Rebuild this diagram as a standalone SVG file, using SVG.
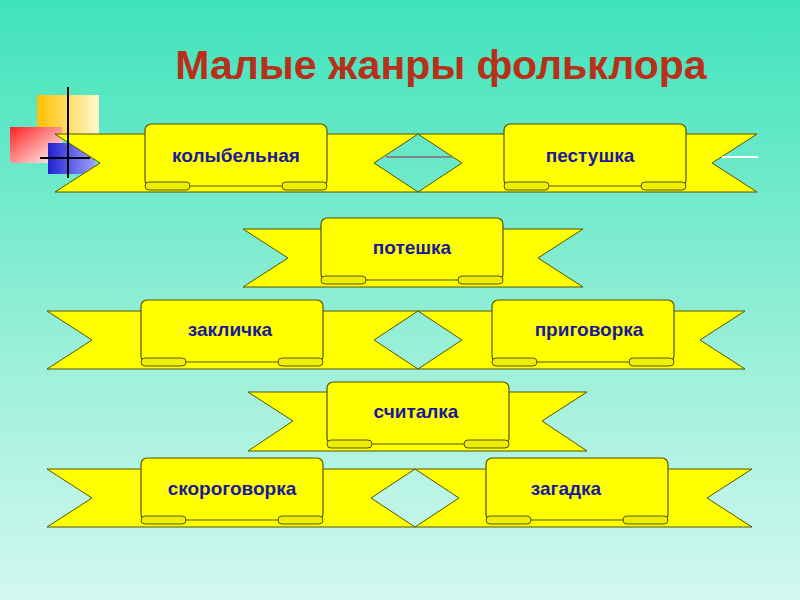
<svg xmlns="http://www.w3.org/2000/svg" width="800" height="600" viewBox="0 0 800 600">
<defs>
<linearGradient id="bg" x1="0" y1="0" x2="0" y2="1"><stop offset="0" stop-color="#3fe3bb"/><stop offset="0.6" stop-color="#9cf0d9"/><stop offset="1" stop-color="#d2f8ee"/></linearGradient>
<linearGradient id="gy" x1="0" y1="0" x2="1" y2="0"><stop offset="0" stop-color="#ffc000"/><stop offset="1" stop-color="#fff8d0"/></linearGradient>
<linearGradient id="gr" x1="0" y1="0" x2="1" y2="1"><stop offset="0" stop-color="#ff2020"/><stop offset="1" stop-color="#ffffff"/></linearGradient>
<linearGradient id="gb" x1="0" y1="0" x2="1" y2="0"><stop offset="0" stop-color="#2020d0"/><stop offset="1" stop-color="#a0a0ff"/></linearGradient>
<style>
.rb{fill:#ffff00;stroke:#555500;stroke-width:1}
.pn{fill:#ffff00;stroke:#555500;stroke-width:1.2}
.lip{fill:#eeee00;stroke:#555500;stroke-width:1}
.t{font-family:"Liberation Sans",Arial,sans-serif;font-weight:bold;font-size:19px;fill:#1a1a99;text-anchor:middle}
</style>
<g id="panel">
<rect x="0" y="0" width="182" height="62" rx="6" class="pn"/>
<rect x="0" y="58" width="45" height="8" rx="4" class="lip"/>
<rect x="137" y="58" width="45" height="8" rx="4" class="lip"/>
</g>
</defs>
<rect width="800" height="600" fill="url(#bg)"/>
<text x="441" y="79" font-family="Liberation Sans,Arial,sans-serif" font-weight="bold" font-size="41" fill="#b8301a" text-anchor="middle">Малые жанры фольклора</text>
<g id="decor">
<rect x="37" y="95" width="62" height="46" fill="url(#gy)"/>
<rect x="10" y="127" width="52" height="36" fill="url(#gr)"/>
<rect x="48" y="143" width="47" height="31" fill="url(#gb)"/>
</g>
<g id="connectors">
<polygon class="rb" points="55,134 418,134 374,163 418,192 55,192 100,163"/>
<polygon class="rb" points="418,134 757,134 712,163 757,192 418,192 462,163"/>
<line x1="386" y1="157" x2="452" y2="157" stroke="#888" stroke-width="2"/>
<line x1="722" y1="157" x2="758" y2="157" stroke="#fff" stroke-width="2"/>
<polygon class="rb" points="243,229 583,229 538,258 583,287 243,287 288,258"/>
<polygon class="rb" points="47,311 418,311 374,340 418,369 47,369 92,340"/>
<polygon class="rb" points="418,311 745,311 700,340 745,369 418,369 462,340"/>
<polygon class="rb" points="248,392 587,392 542,421 587,451 248,451 293,421"/>
<polygon class="rb" points="47,469 415,469 371,498 415,527 47,527 92,498"/>
<polygon class="rb" points="415,469 752,469 707,498 752,527 415,527 459,498"/>
</g>
<g id="cross">
<line x1="68" y1="87" x2="68" y2="178" stroke="#000" stroke-width="2"/>
<line x1="40" y1="158" x2="90" y2="158" stroke="#000" stroke-width="2"/>
</g>
<g id="n1"><use href="#panel" x="145" y="124"/><text class="t" x="236" y="162">колыбельная</text></g>
<g id="n2"><use href="#panel" x="504" y="124"/><text class="t" x="590" y="162">пестушка</text></g>
<g id="n3"><use href="#panel" x="321" y="218"/><text class="t" x="412" y="254">потешка</text></g>
<g id="n4"><use href="#panel" x="141" y="300"/><text class="t" x="230" y="336">закличка</text></g>
<g id="n5"><use href="#panel" x="492" y="300"/><text class="t" x="589" y="336">приговорка</text></g>
<g id="n6"><use href="#panel" x="327" y="382"/><text class="t" x="416" y="418">считалка</text></g>
<g id="n7"><use href="#panel" x="141" y="458"/><text class="t" x="232" y="495">скороговорка</text></g>
<g id="n8"><use href="#panel" x="486" y="458"/><text class="t" x="566" y="495">загадка</text></g>
</svg>
